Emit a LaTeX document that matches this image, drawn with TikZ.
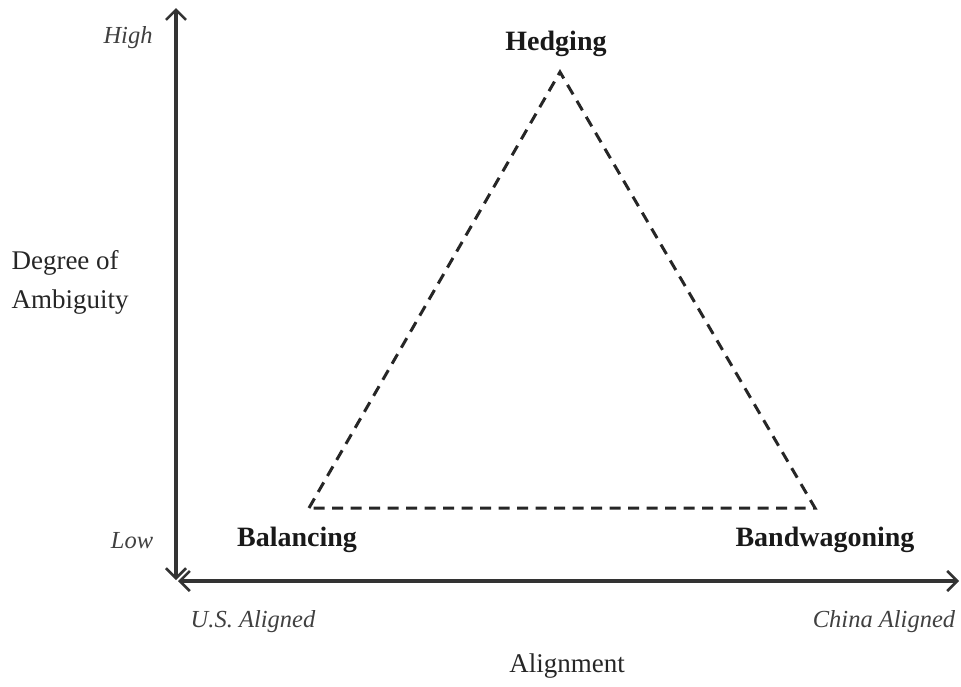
\documentclass[tikz,border=0pt]{standalone}
\usepackage{fontspec}
\setmainfont{Liberation Serif}
\usetikzlibrary{arrows.meta}
\begin{document}
\begin{tikzpicture}[x=1pt,y=-1pt,
  axis/.style={line width=3.2pt,draw=black!80,{Straight Barb[length=10pt,width=20pt,line width=2.6pt]}-{Straight Barb[length=10pt,width=20pt,line width=2.6pt]}},
  edge/.style={line width=3pt,draw=black!85,dash pattern=on 11pt off 7.5pt},
  pole/.style={font=\fontsize{28}{32}\selectfont\bfseries,text=black!90},
  tick/.style={font=\fontsize{24.5}{28}\selectfont\itshape,text=black!75},
  title/.style={font=\fontsize{27}{39}\selectfont,text=black!85,align=left}]
\useasboundingbox (0,0) rectangle (961,686);
% axes
\coordinate (ytop) at (176,8);
\coordinate (ybot) at (176,580);
\coordinate (xleft) at (178,581);
\coordinate (xright) at (959,581);
\draw[axis] (ybot) -- (ytop);
\draw[axis] (xleft) -- (xright);
% triangle of strategies
\coordinate (apex) at (560,72);
\coordinate (left) at (309,508);
\coordinate (right) at (815,508);
\draw[edge] (left) -- (apex) -- (right) -- cycle;
% labels
\node[pole] (hedging) at (556,44) {Hedging};
\node[pole] (balancing) at (297,540) {Balancing};
\node[pole] (bandwagoning) at (825,540) {Bandwagoning};
\node[tick] (high) at (128,38) {High};
\node[tick] (low) at (132,541) {Low};
\node[tick] (us) at (253,622) {U.S. Aligned};
\node[tick] (china) at (884,622) {China Aligned};
\node[title] (alignment) at (567,666) {Alignment};
\node[title,anchor=west] (ambiguity) at (8,282) {Degree of\\Ambiguity};
\end{tikzpicture}
\end{document}
